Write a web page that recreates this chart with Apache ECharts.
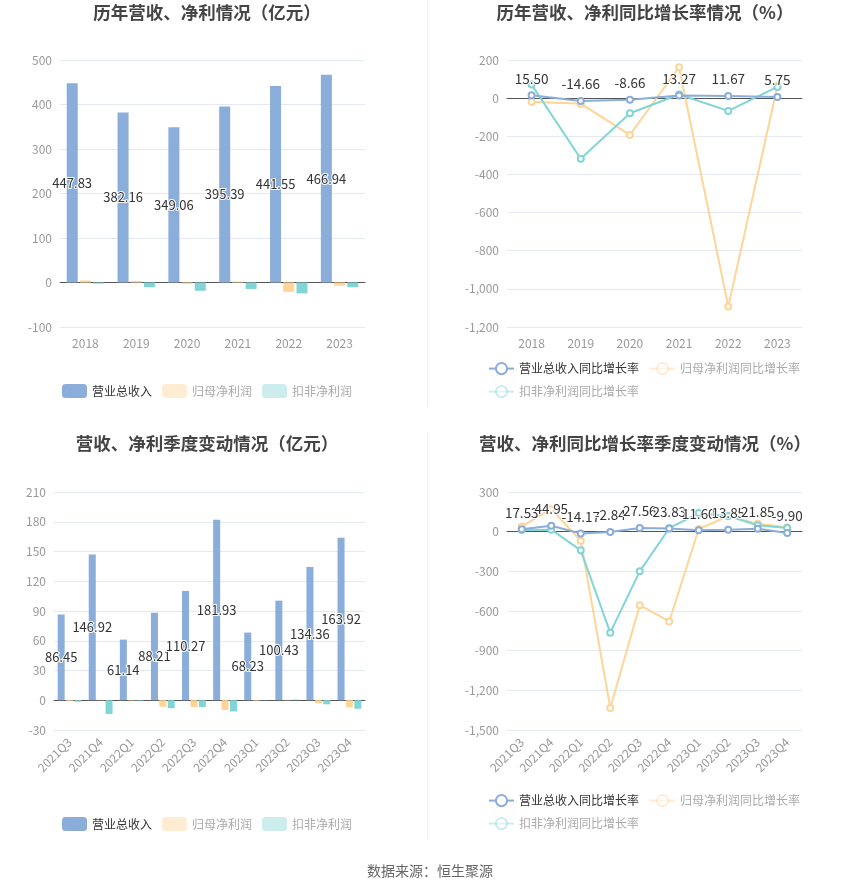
<!DOCTYPE html>
<html><head><meta charset="utf-8">
<script src="https://cdn.jsdelivr.net/npm/echarts@6/dist/echarts.min.js"></script>
<style>html,body{margin:0;padding:0;background:#fff}#c{width:850px;height:891px}</style>
</head><body><div id="c"></div>
<script>
var years = ['2018','2019','2020','2021','2022','2023'];
var yRevenue = [447.83, 382.16, 349.06, 395.39, 441.55, 466.94];
var yNetProfit = [4.6, 3.4, -3.0, 2.2, -21.0, -7.2];
var yDeducted = [-2.4, -10.4, -18.6, -14.5, -24.5, -10.6];
var yRevenueGrowth = [15.50, -14.66, -8.66, 13.27, 11.67, 5.75];
var yNetGrowth = [-19, -29, -193, 162, -1093, 62];
var yDeductedGrowth = [71, -318, -79, 19, -67, 59];

var quarters = ['2021Q3','2021Q4','2022Q1','2022Q2','2022Q3','2022Q4','2023Q1','2023Q2','2023Q3','2023Q4'];
var qRevenue = [86.45, 146.92, 61.14, 88.21, 110.27, 181.93, 68.23, 100.43, 134.36, 163.92];
var qNetProfit = [-0.7, 0.6, -0.4, -6.6, -7.0, -9.8, -0.5, 0.5, -3.0, -7.2];
var qDeducted = [-1.5, -13.8, -0.5, -8.0, -6.8, -11.2, -0.2, 0.7, -4.1, -8.6];
var qRevenueGrowth = [17.53, 44.95, -14.17, -2.84, 27.56, 23.83, 11.60, 13.85, 21.85, -9.90];
var qNetGrowth = [40, 170, -69, -1333, -556, -679, 20, 118, 59, 33];
var qDeductedGrowth = [13, 15, -141, -764, -300, 26, 141, 118, 49, 28];

var barNames = ['营业总收入','归母净利润','扣非净利润'];
var lineNames = ['营业总收入同比增长率','归母净利润同比增长率','扣非净利润同比增长率'];

var C_BLUE = '#8badda', C_ORANGE = '#fed596', C_CYAN = '#82d5d6';
var F = '"Noto Sans CJK SC", "Noto Sans", sans-serif';

var chart = echarts.init(document.getElementById('c'));

function xAx(idx, data, rotate) {
  return {
    type: 'category', gridIndex: idx, data: data,
    axisLine: { onZero: true, lineStyle: { color: '#555' } },
    axisTick: { alignWithLabel: true, lineStyle: { color: '#555' } },
    axisLabel: { color: '#999', fontSize: 12, fontFamily: F, rotate: rotate, margin: 10, interval: 0 },
    position: 'bottom'
  };
}
function yAx(idx, min, max, interval) {
  return {
    type: 'value', gridIndex: idx, min: min, max: max, interval: interval,
    axisLine: { show: false }, axisTick: { show: false },
    axisLabel: { color: '#999', fontSize: 12, fontFamily: F },
    splitLine: { lineStyle: { color: '#e3e8f3' } }
  };
}
var lbl = { color: '#333', fontSize: 13, fontFamily: F, textBorderColor: '#fff', textBorderWidth: 2 };
function barSeries(idx, rev, np, dd, bw) {
  return [
    { name: barNames[0], type: 'bar', xAxisIndex: idx, yAxisIndex: idx, data: rev, barWidth: bw, barGap: '20%',
      itemStyle: { color: C_BLUE },
      label: Object.assign({ show: true, position: 'inside' }, lbl) },
    { name: barNames[1], type: 'bar', xAxisIndex: idx, yAxisIndex: idx, data: np, barWidth: bw, barGap: '20%',
      itemStyle: { color: C_ORANGE } },
    { name: barNames[2], type: 'bar', xAxisIndex: idx, yAxisIndex: idx, data: dd, barWidth: bw, barGap: '20%',
      itemStyle: { color: C_CYAN } }
  ];
}
function lineSeries(idx, rg, ng, dg) {
  function one(name, data, color, z, showLabel) {
    return { name: name, type: 'line', xAxisIndex: idx, yAxisIndex: idx, data: data, z: z,
      symbol: 'emptyCircle', symbolSize: 6,
      lineStyle: { color: color, width: 2 }, itemStyle: { color: color, borderWidth: 1.5 },
      label: showLabel ? Object.assign({ show: true, position: 'top', distance: 6,
        formatter: function (p) { return p.value.toFixed(2); } }, lbl, { fontSize: 13.5 }) : { show: false } };
  }
  return [one(lineNames[0], rg, C_BLUE, 5, true), one(lineNames[1], ng, C_ORANGE, 3, false), one(lineNames[2], dg, C_CYAN, 4, false)];
}
function fadeItem(n, faded) {
  var o = { name: n };
  if (faded) {
    o.itemStyle = { opacity: 0.42 };
    o.lineStyle = { opacity: 0.42 };
    o.textStyle = { color: '#aaa' };
  }
  return o;
}
function barLegend(top) {
  return {
    top: top, left: 57, itemWidth: 25, itemHeight: 14, itemGap: 10, icon: 'roundRect',
    textStyle: { fontFamily: F, fontSize: 12, color: '#333' },
    data: [fadeItem(barNames[0], false), fadeItem(barNames[1], true), fadeItem(barNames[2], true)]
  };
}
function lineLegend(top, names) {
  return {
    top: top, left: 483, itemWidth: 25, itemHeight: 14, itemGap: 10,
    textStyle: { fontFamily: F, fontSize: 12, color: '#333' },
    data: names.map(function (n) { return fadeItem(n, n !== lineNames[0]); })
  };
}

var titleStyle = { fontFamily: F, fontSize: 17.5, fontWeight: 'bold', color: '#444' };

var option = {
  animation: false,
  title: [
    { text: '历年营收、净利情况（亿元）', left: 202, top: -1, textAlign: 'center', textStyle: titleStyle },
    { text: '历年营收、净利同比增长率情况（%）', left: 640, top: -1, textAlign: 'center', textStyle: titleStyle },
    { text: '营收、净利季度变动情况（亿元）', left: 202, top: 430, textAlign: 'center', textStyle: titleStyle },
    { text: '营收、净利同比增长率季度变动情况（%）', left: 640, top: 430, textAlign: 'center', textStyle: titleStyle },
    { text: '数据来源：恒生聚源', left: 425, top: 859, textAlign: 'center', textStyle: { fontFamily: F, fontSize: 14, fontWeight: 'normal', color: '#666' } }
  ],
  legend: [
    barLegend(379),
    lineLegend(357, [lineNames[0], lineNames[1]]),
    lineLegend(380, [lineNames[2]]),
    barLegend(812),
    lineLegend(789, [lineNames[0], lineNames[1]]),
    lineLegend(812, [lineNames[2]])
  ],
  grid: [
    { left: 60, width: 305, top: 60, height: 267 },
    { left: 507, width: 295, top: 60, height: 267 },
    { left: 54, width: 311, top: 492, height: 238 },
    { left: 507, width: 295, top: 492, height: 238 }
  ],
  xAxis: [xAx(0, years, 0), xAx(1, years, 0), xAx(2, quarters, 45), xAx(3, quarters, 45)],
  yAxis: [yAx(0, -100, 500, 100), yAx(1, -1200, 200, 200), yAx(2, -30, 210, 30), yAx(3, -1500, 300, 300)],
  series: [].concat(
    barSeries(0, yRevenue, yNetProfit, yDeducted, 11),
    lineSeries(1, yRevenueGrowth, yNetGrowth, yDeductedGrowth),
    barSeries(2, qRevenue, qNetProfit, qDeducted, 7),
    lineSeries(3, qRevenueGrowth, qNetGrowth, qDeductedGrowth)
  ),
  graphic: [
    { type: 'line', shape: { x1: 427.5, y1: 0, x2: 427.5, y2: 406 }, style: { stroke: '#eee', lineWidth: 1 } },
    { type: 'line', shape: { x1: 427.5, y1: 432, x2: 427.5, y2: 840 }, style: { stroke: '#eee', lineWidth: 1 } }
  ]
};
chart.setOption(option);
</script></body></html>
